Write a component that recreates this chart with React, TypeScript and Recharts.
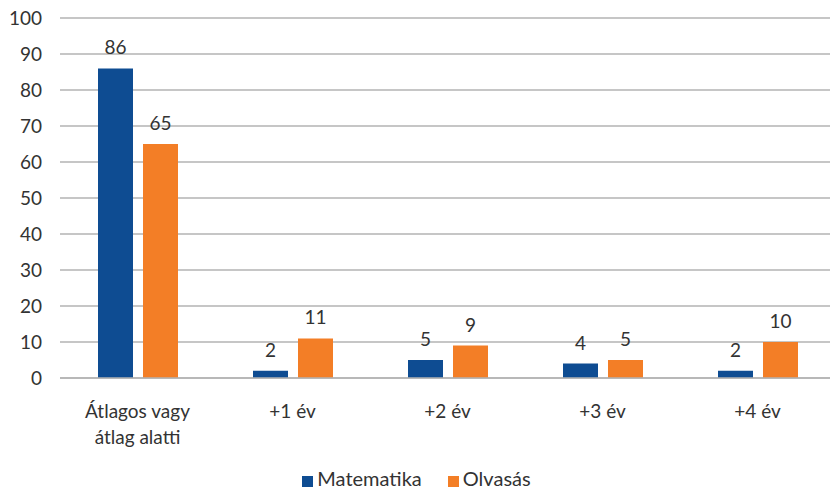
import { BarChart, Bar, XAxis, YAxis, CartesianGrid, Legend, LabelList } from 'recharts';

const categories = ['Átlagos vagy|átlag alatti', '+1 év', '+2 év', '+3 év', '+4 év'];
const matematika = [86, 2, 5, 4, 2];
const olvasas = [65, 11, 9, 5, 10];
const yTicks = [0, 10, 20, 30, 40, 50, 60, 70, 80, 90, 100];

const BLUE = '#0E4C92';
const ORANGE = '#F37E26';
const TEXT = '#333333';
const FONT = 'Lato, "Open Sans", sans-serif';

const data = categories.map((c, i) => ({ cat: c, mat: matematika[i], olv: olvasas[i] }));

function CatTick({ x, y, payload }: any) {
  const lines = String(payload.value).split('|');
  return (
    <text x={x} y={y} textAnchor="middle" fill={TEXT} fontSize={19} fontFamily={FONT}>
      {lines.map((l, i) => (
        <tspan key={i} x={x} dy={i === 0 ? 32 : 26}>
          {l}
        </tspan>
      ))}
    </text>
  );
}

export default function App() {
  return (
    <div style={{ position: 'absolute', left: 0, top: 0, width: 830, height: 491, overflow: 'hidden', background: '#fff' }}>
      <BarChart
        width={835}
        height={491}
        data={data}
        margin={{ top: 18, right: 0, left: 0, bottom: 0 }}
        barSize={35}
        barGap={10}
        style={{ fontFamily: FONT }}
      >
        <CartesianGrid vertical={false} stroke="#b3b3b3" strokeWidth={1.5} />
        <XAxis
          dataKey="cat"
          tick={<CatTick />}
          tickLine={false}
          axisLine={{ stroke: '#b3b3b3', strokeWidth: 1.5 }}
          height={88}
          interval={0}
        />
        <YAxis
          width={60}
          domain={[0, 100]}
          ticks={yTicks}
          tickLine={false}
          axisLine={false}
          tickSize={0}
          tickMargin={18}
          tick={{ fill: TEXT, fontSize: 19, fontFamily: FONT }}
        />
        <Legend
          verticalAlign="bottom"
          height={25}
          iconType="square"
          iconSize={11}
          wrapperStyle={{ left: 12 }}
          formatter={(v: string) => <span style={{ color: TEXT, fontSize: 20, fontFamily: FONT, marginRight: 16 }}>{v}</span>}
        />
        <Bar dataKey="mat" name="Matematika" fill={BLUE} isAnimationActive={false}>
          <LabelList dataKey="mat" position="top" offset={14} fill={TEXT} fontSize={19} fontFamily={FONT} />
        </Bar>
        <Bar dataKey="olv" name="Olvasás" fill={ORANGE} isAnimationActive={false}>
          <LabelList dataKey="olv" position="top" offset={14} fill={TEXT} fontSize={19} fontFamily={FONT} />
        </Bar>
      </BarChart>
    </div>
  );
}
